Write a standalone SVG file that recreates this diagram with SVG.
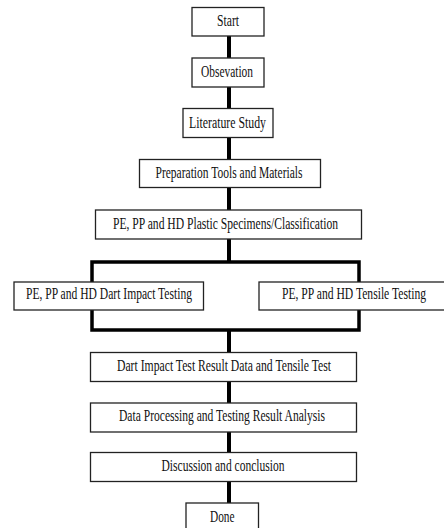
<svg xmlns="http://www.w3.org/2000/svg" width="444" height="528" viewBox="0 0 444 528">
<style>
.box{fill:#fff;stroke:#222;stroke-width:1.3}
.t{font-family:"Liberation Serif","DejaVu Serif",serif;font-size:16.5px;fill:#111;text-anchor:start}
.c{stroke:#000;stroke-width:4;fill:none;stroke-linecap:butt}
.b{stroke:#000;stroke-width:3.5;fill:none;stroke-linejoin:miter;stroke-linecap:square}
</style>
<rect width="444" height="528" fill="#fff"/>
<g id="connectors">
<line class="c" x1="229" y1="36" x2="229" y2="58"/>
<line class="c" x1="229" y1="87" x2="229" y2="108"/>
<line class="c" x1="229" y1="137" x2="229" y2="159"/>
<line class="c" x1="229" y1="187" x2="229" y2="210"/>
<line class="c" x1="229" y1="239" x2="229" y2="262"/>
<polyline class="b" points="92,282 92,262 359,262 359,282"/>
<polyline class="b" points="92,310 92,330 359,330 359,310"/>
<line class="c" x1="229" y1="330" x2="229" y2="352"/>
<line class="c" x1="229" y1="381" x2="229" y2="403"/>
<line class="c" x1="229" y1="432" x2="229" y2="452"/>
<line class="c" x1="229" y1="481" x2="229" y2="503"/>
</g>
<g id="start"><rect class="box" x="192" y="7.5" width="72" height="28.5"/><text class="t" x="217" y="26" font-size="13" textLength="22" lengthAdjust="spacingAndGlyphs">Start</text></g>
<g id="observation"><rect class="box" x="192" y="58" width="72" height="29"/><text class="t" x="201" y="77" textLength="52" lengthAdjust="spacingAndGlyphs">Obsevation</text></g>
<g id="literature"><rect class="box" x="183" y="108.5" width="90" height="29"/><text class="t" x="189" y="128" textLength="77" lengthAdjust="spacingAndGlyphs">Literature  Study</text></g>
<g id="preparation"><rect class="box" x="139.5" y="159.5" width="181" height="28"/><text class="t" x="155.5" y="177.5" textLength="147" lengthAdjust="spacingAndGlyphs">Preparation Tools and Materials</text></g>
<g id="specimens"><rect class="box" x="95.5" y="210" width="266" height="29"/><text class="t" x="113" y="228.5" textLength="225" lengthAdjust="spacingAndGlyphs">PE, PP and HD Plastic Specimens/Classification</text></g>
<g id="dart"><rect class="box" x="14" y="282" width="189.5" height="28"/><text class="t" x="26" y="298.5" textLength="166" lengthAdjust="spacingAndGlyphs">PE, PP and HD Dart Impact Testing</text></g>
<g id="tensile"><rect class="box" x="259" y="282" width="190" height="28"/><text class="t" x="282" y="298.5" textLength="144" lengthAdjust="spacingAndGlyphs">PE, PP and HD Tensile Testing</text></g>
<g id="result"><rect class="box" x="90.5" y="352.5" width="266" height="29"/><text class="t" x="117" y="370.5" textLength="214" lengthAdjust="spacingAndGlyphs">Dart Impact Test Result Data and Tensile  Test</text></g>
<g id="processing"><rect class="box" x="90.5" y="403" width="266" height="29"/><text class="t" x="119" y="421" textLength="206" lengthAdjust="spacingAndGlyphs">Data Processing and Testing Result Analysis</text></g>
<g id="discussion"><rect class="box" x="90.5" y="452.5" width="266" height="29"/><text class="t" x="161.5" y="470.5" textLength="123" lengthAdjust="spacingAndGlyphs">Discussion and conclusion</text></g>
<g id="done"><rect class="box" x="186" y="503" width="72.5" height="35"/><text class="t" x="210" y="521.5" textLength="24.5" lengthAdjust="spacingAndGlyphs">Done</text></g>
</svg>
